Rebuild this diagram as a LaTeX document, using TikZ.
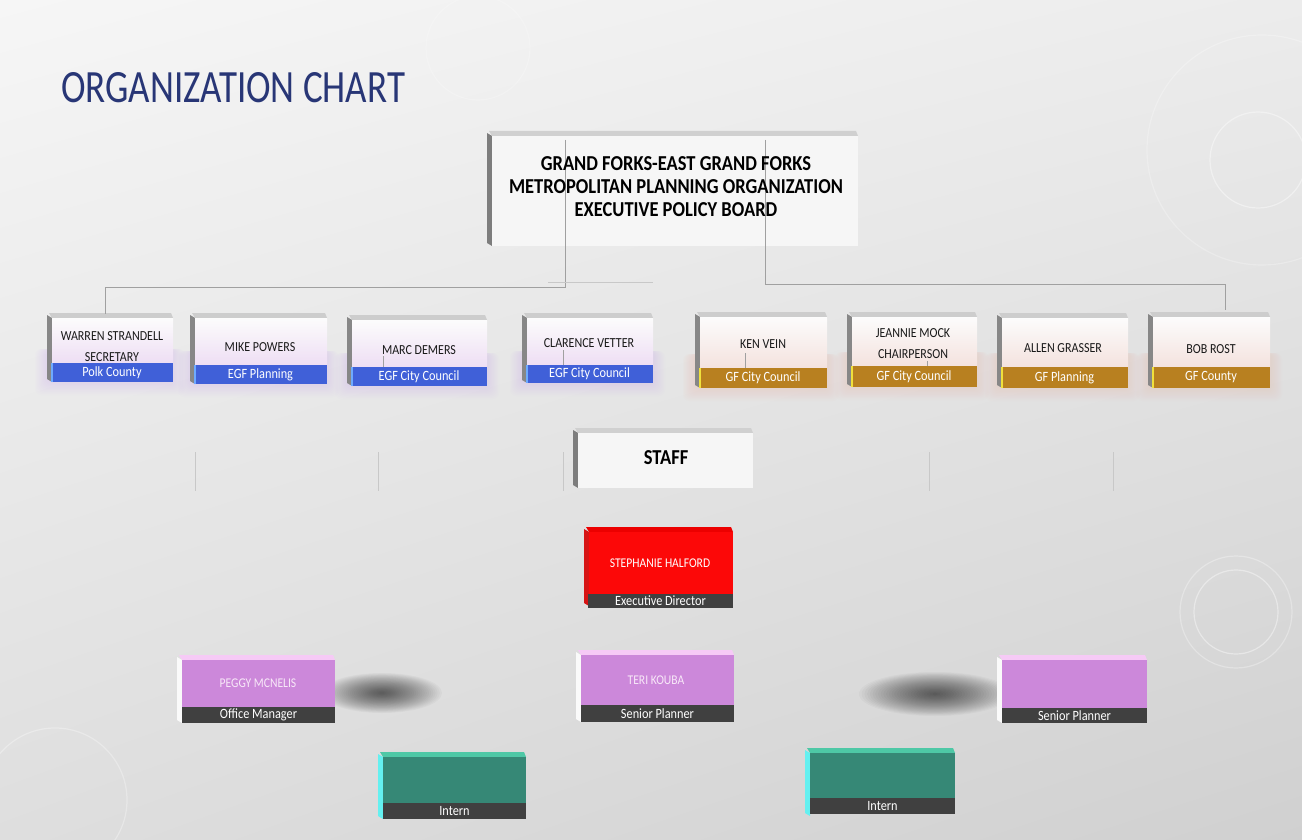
\documentclass[tikz,border=0pt]{standalone}
\usepackage{fontspec}
\setmainfont{Carlito}
\usepackage{graphicx}
\usetikzlibrary{shadings}
\definecolor{bgUL}{RGB}{246,246,246}
\definecolor{bgUR}{RGB}{236,236,236}
\definecolor{bgLL}{RGB}{222,222,222}
\definecolor{bgLR}{RGB}{208,208,208}
\definecolor{titleblue}{RGB}{40,54,118}
\definecolor{bluebar}{RGB}{64,96,216}
\definecolor{goldbar}{RGB}{184,128,32}
\definecolor{blueacc}{RGB}{110,170,255}
\definecolor{goldacc}{RGB}{240,225,60}
\definecolor{memstrip}{RGB}{205,205,205}
\definecolor{memside}{RGB}{135,135,135}
\definecolor{memtopface}{RGB}{252,252,252}
\definecolor{bluefaceb}{RGB}{238,222,244}
\definecolor{goldfaceb}{RGB}{244,226,222}
\definecolor{boxface}{RGB}{246,246,246}
\definecolor{boxstrip}{RGB}{208,208,208}
\definecolor{boxside}{RGB}{125,125,125}
\definecolor{redface}{RGB}{252,8,8}
\definecolor{redstrip}{RGB}{236,0,0}
\definecolor{redside}{RGB}{214,20,20}
\definecolor{purpface}{RGB}{204,136,218}
\definecolor{purpstrip}{RGB}{246,202,246}
\definecolor{purpside}{RGB}{250,250,250}
\definecolor{purptext}{RGB}{248,232,248}
\definecolor{tealface}{RGB}{54,136,118}
\definecolor{tealstrip}{RGB}{78,200,166}
\definecolor{tealside}{RGB}{100,240,240}
\definecolor{darkbar}{RGB}{64,64,64}
\definecolor{conn}{RGB}{160,160,160}
\definecolor{connfaint}{RGB}{200,200,200}
\definecolor{blueglow}{RGB}{205,160,240}
\definecolor{goldglow}{RGB}{240,175,140}

\newcommand{\sy}[1]{\scalebox{1}[1.15]{#1}}
\newcommand{\sx}[1]{\scalebox{1}[1.15]{\begin{tabular}{@{}c@{}}#1\end{tabular}}}
\newcommand{\fmem}{\fontsize{12}{18}\selectfont}
\newcommand{\fbar}{\fontsize{12.3}{14}\selectfont}
\newcommand{\fstaff}{\fontsize{11.6}{14}\selectfont}

% name, x0, y0, x1, ybar, y1, strip colour, side colour, face options
\newcommand{\card}[9]{%
  \fill[#7] (#2+2,#3) -- (#4-2,#3) -- (#4,#3+5) -- (#2+5,#3+5) -- cycle;
  \fill[#8] (#2,#3+2) -- (#2+5,#3+5) -- (#2+5,#6) -- (#2,#6-3) -- cycle;
  \node[inner sep=0, outer sep=0, anchor=north west, minimum width={#4-#2-5},
        minimum height={#5-#3-5}, #9] (#1) at (#2+5,#3+5) {};}
% name, x0, x1, ybar, y1, fill, text
\newcommand{\cardbar}[7]{%
  \node[inner sep=0, outer sep=0, anchor=north west, minimum width={#3-#2-4},
        minimum height={#5-#4}, fill=#6, text=white, font=\fbar] (#1) at (#2+4,#4) {\sy{#7}};}
% x0, x1, ybar, y1, colour
\newcommand{\glow}[5]{%
  \foreach \i in {1,...,10}{\fill[#5, opacity=0.025, rounded corners=6]
     (#1-1.2*\i,#3-14) rectangle (#2+1.2*\i,#4+1.3*\i);}}
% cx, cy, rx, ry
\newcommand{\blob}[4]{%
  \foreach \i in {1,...,28}{\fill[black, opacity=0.026] (#1,#2) ellipse ({#3*\i/28} and {#4*\i/28});}}

\tikzset{
  connector/.style={draw=conn, line width=0.8pt},
  faintline/.style={draw=connfaint, line width=0.7pt},
  deco/.style={draw=white, opacity=0.4, line width=1.2pt},
  memtext/.style={inner sep=0, text=black!90, font=\fmem},
}

\begin{document}
\begin{tikzpicture}[x=1pt,y=-1pt]
\shade[upper left=bgUL, upper right=bgUR, lower left=bgLL, lower right=bgLR] (0,0) rectangle (1302,840);
\useasboundingbox (0,0) rectangle (1302,840);

% faint decorative circles
\draw[deco] (1258,160) circle (48);
\draw[deco, opacity=0.25] (1262,150) circle (115);
\draw[deco] (1236,612) circle (42);
\draw[deco, opacity=0.3] (1236,612) circle (56);
\draw[deco, opacity=0.3] (55,800) circle (72);
\draw[deco, opacity=0.2] (478,48) circle (52);

% title
\node[anchor=west, inner sep=0, text=titleblue, font=\fontsize{37}{40}\selectfont] (title) at (61,88)
  {\scalebox{1}[1.25]{ORGANIZATION CHART}};

% top box
\card{top}{487}{131}{858}{246}{246}{boxstrip}{boxside}{fill=boxface}

% member glows
\glow{47}{173}{363}{382}{blueglow}
\glow{190}{327}{365}{384}{blueglow}
\glow{347}{487}{367}{386}{blueglow}
\glow{522}{653}{365}{383}{blueglow}
\glow{695}{827}{368}{388}{goldglow}
\glow{847}{977}{366}{387}{goldglow}
\glow{997}{1128}{367}{388}{goldglow}
\glow{1148}{1270}{367}{388}{goldglow}

% member cards
\card{mw}{47}{313}{173}{363}{382}{memstrip}{memside}{top color=memtopface, bottom color=bluefaceb}
\card{mm}{190}{313}{327}{365}{384}{memstrip}{memside}{top color=memtopface, bottom color=bluefaceb}
\card{md}{347}{315}{487}{367}{386}{memstrip}{memside}{top color=memtopface, bottom color=bluefaceb}
\card{mc}{522}{313}{653}{365}{383}{memstrip}{memside}{top color=memtopface, bottom color=bluefaceb}
\card{mk}{695}{312}{827}{368}{388}{memstrip}{memside}{top color=memtopface, bottom color=goldfaceb}
\card{mj}{847}{312}{977}{366}{387}{memstrip}{memside}{top color=memtopface, bottom color=goldfaceb}
\card{ma}{997}{313}{1128}{367}{388}{memstrip}{memside}{top color=memtopface, bottom color=goldfaceb}
\card{mb}{1148}{312}{1270}{367}{388}{memstrip}{memside}{top color=memtopface, bottom color=goldfaceb}

% connectors
\coordinate (p1) at (565,140);
\coordinate (p2) at (565,287);
\coordinate (p3) at (105,287);
\coordinate (p4) at (105,314);
\coordinate (q1) at (765,140);
\coordinate (q2) at (765,284);
\coordinate (q3) at (1225,284);
\coordinate (q4) at (1225,310);
\coordinate (r1) at (548,282);
\coordinate (r2) at (653,282);
\draw[connector] (p1) -- (p2) -- (p3) -- (p4);
\draw[connector] (q1) -- (q2) -- (q3) -- (q4);
\draw[faintline] (r1) -- (r2);

% stubs inside member boxes
\coordinate (s1a) at (383,356); \coordinate (s1b) at (383,367);
\coordinate (s2a) at (563,350); \coordinate (s2b) at (563,365);
\coordinate (s3a) at (745,353); \coordinate (s3b) at (745,368);
\coordinate (s4a) at (927,361); \coordinate (s4b) at (927,366);
\draw[connector] (s1a) -- (s1b);
\draw[connector] (s2a) -- (s2b);
\draw[connector] (s3a) -- (s3b);
\draw[connector] (s4a) -- (s4b);

% member bars
\cardbar{bw}{47}{173}{363}{382}{bluebar}{Polk County}
\cardbar{bm}{190}{327}{365}{384}{bluebar}{EGF Planning}
\cardbar{bd}{347}{487}{367}{386}{bluebar}{EGF City Council}
\cardbar{bc}{522}{653}{365}{383}{bluebar}{EGF City Council}
\cardbar{bk}{695}{827}{368}{388}{goldbar}{GF City Council}
\cardbar{bj}{847}{977}{366}{387}{goldbar}{GF City Council}
\cardbar{ba}{997}{1128}{367}{388}{goldbar}{GF Planning}
\cardbar{bb}{1148}{1270}{367}{388}{goldbar}{GF County}
\fill[blueacc] (51,363) rectangle (52.5,382);
\fill[blueacc] (194,365) rectangle (195.5,384);
\fill[blueacc] (351,367) rectangle (352.5,386);
\fill[blueacc] (526,365) rectangle (527.5,383);
\fill[goldacc] (699,368) rectangle (700.5,388);
\fill[goldacc] (851,366) rectangle (852.5,387);
\fill[goldacc] (1001,367) rectangle (1002.5,388);
\fill[goldacc] (1152,367) rectangle (1153.5,388);

% member texts
\node[memtext] (tw) at (112,347) {\sx{WARREN STRANDELL\\SECRETARY}};
\node[memtext] (tm) at (260,347) {\sx{MIKE POWERS}};
\node[memtext] (td) at (419,350) {\sx{MARC DEMERS}};
\node[memtext] (tc) at (589,343) {\sx{CLARENCE VETTER}};
\node[memtext] (tk) at (763,344) {\sx{KEN VEIN}};
\node[memtext] (tj) at (913,344) {\sx{JEANNIE MOCK\\CHAIRPERSON}};
\node[memtext] (ta) at (1063,348) {\sx{ALLEN GRASSER}};
\node[memtext] (tb) at (1211,349) {\sx{BOB ROST}};

% top box text
\node[inner sep=0, font=\fontsize{18.5}{19.6}\selectfont\bfseries, text=black] (toptext) at (676,189)
  {\sx{GRAND FORKS-EAST GRAND FORKS\\METROPOLITAN PLANNING ORGANIZATION\\EXECUTIVE POLICY BOARD}};

% faint verticals around staff
\foreach \x/\n in {195/a,378/b,563/c,929/d,1113/e}{
  \coordinate (v\n1) at (\x,452); \coordinate (v\n2) at (\x,491);
  \draw[faintline] (v\n1) -- (v\n2);}

% staff box
\card{staff}{573}{428}{753}{488}{488}{boxstrip}{boxside}{fill=boxface}
\node[inner sep=0, font=\fontsize{18.5}{20}\selectfont\bfseries] (stafftext) at (666,458) {\sy{STAFF}};

% shadow blobs
\blob{382}{693}{60}{20}
\blob{935}{694}{76}{22}

% executive director
\card{sh}{584}{527}{733}{594}{606}{redstrip}{redside}{fill=redface}
\cardbar{shb}{584}{733}{594}{608}{darkbar}{Executive Director}
\node[inner sep=0, text=white, font=\fstaff] (sht) at (660,563) {\sy{STEPHANIE HALFORD}};

% purple cards
\card{pm}{177}{655}{335}{707}{723}{purpstrip}{purpside}{fill=purpface}
\cardbar{pmb}{178}{335}{707}{723}{darkbar}{Office Manager}
\node[inner sep=0, text=purptext, font=\fstaff] (pmt) at (258,683) {\sy{PEGGY MCNELIS}};

\card{tk}{576}{650}{734}{705}{722}{purpstrip}{purpside}{fill=purpface}
\cardbar{tkb}{577}{734}{705}{722}{darkbar}{Senior Planner}
\node[inner sep=0, text=purptext, font=\fstaff] (tkt) at (656,680) {\sy{TERI KOUBA}};

\card{sp}{997}{655}{1147}{708}{723}{purpstrip}{purpside}{fill=purpface}
\cardbar{spb}{998}{1147}{708}{723}{darkbar}{Senior Planner}

% interns
\card{i1}{378}{752}{526}{803}{819}{tealstrip}{tealside}{fill=tealface}
\cardbar{i1b}{379}{526}{803}{819}{darkbar}{Intern}
\card{i2}{805}{748}{955}{798}{816}{tealstrip}{tealside}{fill=tealface}
\cardbar{i2b}{806}{955}{798}{814}{darkbar}{Intern}
\end{tikzpicture}
\end{document}
